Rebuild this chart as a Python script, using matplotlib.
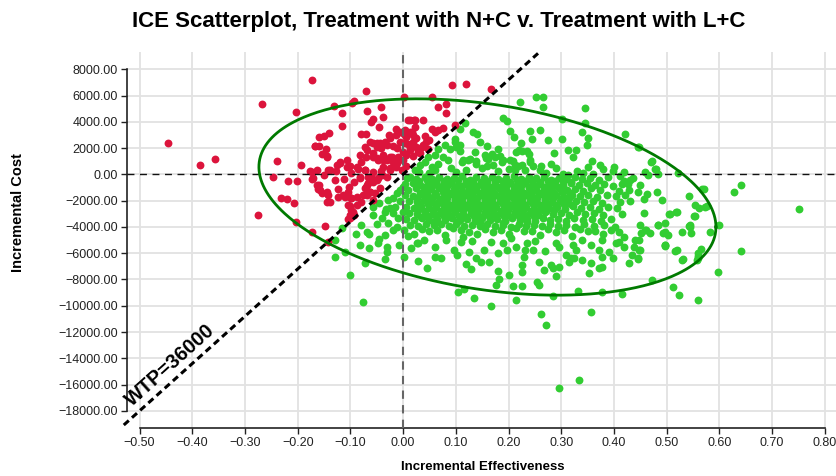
import numpy as np
import matplotlib
matplotlib.use("Agg")
import matplotlib.pyplot as plt

plt.rcParams['font.family'] = ['Liberation Sans', 'DejaVu Sans']
plt.rcParams['axes.unicode_minus'] = True

title = "ICE Scatterplot, Treatment with N+C v. Treatment with L+C"
x_label = "Incremental Effectiveness"
y_label = "Incremental Cost"
wtp = 36000
wtp_label = "WTP=36000"
x_ticks = [-0.5, -0.4, -0.3, -0.2, -0.1, 0.0, 0.1, 0.2, 0.3, 0.4, 0.5, 0.6, 0.7, 0.8]
y_ticks = [-18000, -16000, -14000, -12000, -10000, -8000, -6000, -4000, -2000, 0, 2000, 4000, 6000, 8000]

# ellipse (confidence region) parameters
ell_center = (0.160, -1720)
ell_sd = (0.4336, 7474)
ell_corr = -0.3056

# --- red points: not cost-effective (above WTP line) ---
red_outliers = [(-0.447, 2390), (-0.386, 716), (-0.356, 1170), (-0.267, 5380), (-0.173, 7190),
                (-0.071, 6370), (-0.204, 4730), (-0.239, 1000), (-0.246, -170), (-0.194, 690),
                (-0.218, -500), (-0.201, -500), (-0.275, -3070), (-0.232, -1820), (-0.220, -1900),
                (-0.207, -2200), (-0.203, -3650), (-0.172, -4390), (-0.149, -3930), (-0.142, -5120),
                (0.092, 6800), (0.119, 6880), (0.166, 6480), (0.055, 5870), (0.066, 5160),
                (0.082, 5340), (0.082, 4650), (0.098, 3770)]
red_upper = [(0.013, 4150), (0.022, 4150), (0.037, 4150), (0.054, 3440), (0.066, 3390), (0.076, 3520),
             (0.003, 3390), (0.019, 3010), (0.019, 2500), (0.025, 2760), (0.038, 2250), (0.044, 2500),
             (0.013, 1870), (0.025, 2120), (0.003, 2380), (0.019, 1370), (0.032, 1620), (0.047, 1920),
             (0.000, 1110), (0.006, 610), (0.000, 350), (0.005, 1500), (0.010, 2300), (0.028, 1700),
             (0.035, 2100), (0.042, 2900), (0.050, 2600), (0.060, 3200),
             (-0.132, 5230), (-0.115, 4650), (-0.115, 3710), (-0.094, 5610), (-0.097, 5450),
             (-0.068, 4850), (-0.042, 5110), (-0.038, 4400), (-0.057, 4190), (-0.061, 4000),
             (-0.046, 3590), (0.002, 5920), (0.010, 4140), (0.020, 4140), (0.023, 3630)]
red_cluster = [(-0.159, 2870), (-0.151, 2920), (-0.141, 3170), (-0.168, 2160), (-0.160, 2160),
               (-0.147, 1910), (-0.154, 1530), (-0.144, 1420), (-0.172, 210), (-0.164, 340),
               (-0.172, -330), (-0.160, -800), (-0.158, -1190), (-0.151, -50), (-0.142, 340),
               (-0.143, -1540), (-0.139, -2080), (-0.124, -1130), (-0.130, -430), (-0.127, 260),
               (-0.120, 870), (-0.107, 1100), (-0.101, 640), (-0.112, -350), (-0.103, -980),
               (-0.123, -1700), (-0.110, -1740), (-0.098, -1760), (-0.100, -2380), (-0.096, -2840),
               (-0.101, -3090), (-0.105, -3420), (-0.086, 390), (-0.082, -170), (-0.072, 340),
               (-0.071, -940), (-0.066, -680), (-0.082, 1500), (-0.072, 2110), (-0.070, 1350),
               (-0.080, 3080), (-0.070, 3080), (-0.058, 2410), (-0.050, 2060), (-0.044, 2370),
               (-0.034, 2490), (-0.026, 3000), (-0.019, 2160), (-0.012, 1990), (-0.057, 1350),
               (-0.047, 1100), (-0.038, 1480), (-0.031, 1100), (-0.022, 1350), (-0.038, 590),
               (-0.025, 340), (-0.012, 850), (-0.003, 340), (-0.060, -170), (-0.050, -430),
               (-0.040, -50), (-0.069, -1570), (-0.063, -1320), (-0.057, -1950), (-0.013, 3430),
               (-0.006, 3250), (0.002, 3080), (0.013, 3250), (-0.167, 2190), (-0.145, 1350),
               (-0.177, 260), (-0.171, -300), (-0.164, -810), (-0.161, -1130), (-0.154, -1440),
               (-0.145, -1320), (-0.145, -2080)]
red_core = [(-0.139, 335), (-0.126, 715), (-0.120, 970), (-0.107, 590), (-0.098, 80), (-0.088, 590),
            (-0.079, 970), (-0.072, 335), (-0.066, -170), (-0.082, -300), (-0.094, -600), (-0.069, -810),
            (-0.057, -600), (-0.047, -300), (-0.057, 210), (-0.041, 260), (-0.031, -170), (-0.025, 460),
            (-0.019, 970), (-0.013, 590), (-0.025, 1350), (-0.038, 1100), (-0.050, 1220), (-0.057, 1600),
            (-0.069, 1860), (-0.063, 2490), (-0.050, 2370), (-0.041, 1990), (-0.031, 2240), (-0.025, 2740),
            (-0.013, 3000), (-0.006, 2490), (0.006, 2870), (0.016, 3250), (0.022, 2740), (0.013, 1990),
            (0.000, 1730), (-0.009, 1350), (-0.104, -1320), (-0.114, -1570), (-0.098, -1830),
            (-0.088, -1700), (-0.076, -1570), (-0.063, -1320), (-0.054, -1450), (-0.104, -2330),
            (-0.098, -2710), (-0.094, -3090), (-0.101, -3340), (-0.088, -2330), (-0.079, -2080),
            (-0.072, -1060), (-0.044, -1060)]

# --- green points: cost-effective (below WTP line) ---
green_upper = [(0.253, 5870), (0.265, 5870), (0.265, 5160), (0.222, 5540), (0.346, 5030), (0.301, 4200),
               (0.346, 3900), (0.339, 3260), (0.351, 2760), (0.348, 2250), (0.421, 3090), (0.446, 2070),
               (0.472, 990), (0.480, 400), (0.459, 150), (0.190, 4280), (0.198, 4100), (0.203, 3310),
               (0.211, 2830), (0.241, 3340), (0.259, 3390), (0.244, 2680), (0.223, 2380), (0.274, 2630),
               (0.301, 2680), (0.214, 1720), (0.225, 1750), (0.235, 1750), (0.287, 1620), (0.312, 1870),
               (0.329, 1820), (0.323, 1320), (0.358, 990), (0.373, 730), (0.261, 660), (0.117, 3900),
               (0.133, 3260), (0.141, 3090), (0.146, 2500), (0.160, 2130), (0.098, 2500), (0.089, 1920),
               (0.100, 2070), (0.108, 1750), (0.114, 1110), (0.123, 1110), (0.139, 990), (0.157, 1240),
               (0.159, 610), (0.184, 1370), (0.190, 1110), (0.209, 990), (0.218, 660), (0.241, 1110),
               (0.247, 610), (0.231, 350), (0.272, 100), (0.304, 20), (0.313, -30), (0.342, 100),
               (0.361, 20), (0.399, 230), (0.447, 2050), (0.470, 960), (0.478, 400), (0.465, -50),
               (0.521, 80), (0.108, 3450), (0.098, 2730), (0.108, 2230), (0.079, 2230), (0.066, 1970),
               (0.076, 1340), (0.060, 1470), (0.047, 1340), (0.041, 960), (0.054, 580), (0.032, 710),
               (0.022, 330), (0.066, 830), (0.085, 1090), (0.111, 960), (0.127, 1210), (0.139, 830),
               (0.161, 1210), (0.174, 1340), (0.187, 960), (0.203, 1090), (0.212, 710), (0.136, 1720),
               (0.155, 1470), (0.168, 1590), (0.180, 1970), (0.238, 1590), (0.219, 1850), (0.213, 330),
               (0.225, 710), (0.241, 960), (0.030, 200), (0.060, 350), (0.090, 500), (0.120, 300),
               (0.150, 450), (0.180, 250), (0.200, 400), (0.260, 300), (0.290, 450), (0.330, 250),
               (0.380, 400), (0.420, 150), (0.050, 100), (0.100, 150), (0.170, 700), (0.280, 800),
               (0.350, 550), (0.400, 600)]
green_core = [(0.008, -250), (0.024, -380), (0.041, -200), (0.055, -330), (0.068, -180), (0.083, -360),
              (0.097, -240), (0.112, -150), (0.126, -390), (0.139, -220), (0.153, -300), (0.168, -170),
              (0.181, -350), (0.196, -260), (0.210, -140), (0.224, -380), (0.238, -230), (0.252, -310),
              (0.267, -170), (0.281, -400), (0.295, -250), (0.310, -330), (0.326, -190), (0.340, -360),
              (0.355, -250), (0.372, -410), (0.388, -200), (0.420, -470), (0.436, -280),
              (0.003, -760), (0.018, -650), (0.033, -820), (0.047, -700), (0.062, -610), (0.076, -790),
              (0.090, -680), (0.105, -830), (0.119, -640), (0.133, -760), (0.147, -700), (0.161, -850),
              (0.175, -620), (0.189, -780), (0.203, -690), (0.217, -820), (0.231, -640), (0.246, -760),
              (0.260, -700), (0.274, -850), (0.288, -620), (0.303, -770), (0.318, -680), (0.333, -830),
              (0.348, -650), (0.364, -790), (0.382, -700), (0.399, -880), (0.415, -760),
              (0.010, -1150), (0.025, -1060), (0.039, -1230), (0.053, -1120), (0.068, -1020), (0.082, -1200),
              (0.097, -1100), (0.111, -1250), (0.125, -1060), (0.139, -1170), (0.153, -1110), (0.168, -1260),
              (0.182, -1040), (0.196, -1190), (0.210, -1100), (0.224, -1230), (0.239, -1070), (0.253, -1180),
              (0.267, -1120), (0.282, -1270), (0.296, -1050), (0.311, -1200), (0.326, -1110), (0.341, -1250),
              (0.357, -1060), (0.374, -1190), (0.409, -1280), (0.428, -1150),
              (0.004, -1580), (0.019, -1680), (0.034, -1520), (0.048, -1640), (0.062, -1560), (0.077, -1700),
              (0.091, -1500), (0.105, -1620), (0.119, -1570), (0.134, -1710), (0.148, -1530), (0.162, -1650),
              (0.176, -1580), (0.190, -1700), (0.205, -1510), (0.219, -1630), (0.233, -1570), (0.247, -1710),
              (0.262, -1520), (0.276, -1650), (0.290, -1590), (0.305, -1720), (0.320, -1540), (0.335, -1660),
              (0.351, -1580), (0.368, -1700), (0.386, -1550), (0.404, -1670), (0.421, -1600),
              (0.011, -2020), (0.026, -2130), (0.040, -1970), (0.055, -2080), (0.069, -2000), (0.084, -2150),
              (0.098, -1960), (0.112, -2090), (0.127, -2010), (0.141, -2140), (0.155, -1980), (0.169, -2100),
              (0.183, -2030), (0.198, -2160), (0.212, -1970), (0.226, -2090), (0.240, -2020), (0.255, -2150),
              (0.269, -1980), (0.283, -2100), (0.298, -2040), (0.313, -2170), (0.328, -1990), (0.344, -2110),
              (0.360, -2040), (0.377, -2160), (0.412, -2120), (0.430, -2060),
              (0.005, -2480), (0.020, -2570), (0.034, -2430), (0.049, -2540), (0.063, -2460), (0.078, -2600),
              (0.092, -2420), (0.106, -2550), (0.121, -2470), (0.135, -2610), (0.149, -2440), (0.163, -2560),
              (0.177, -2490), (0.192, -2620), (0.206, -2430), (0.220, -2550), (0.234, -2480), (0.249, -2600),
              (0.263, -2450), (0.277, -2570), (0.292, -2500), (0.307, -2630), (0.322, -2440), (0.338, -2560),
              (0.354, -2490), (0.371, -2610), (0.388, -2460), (0.406, -2580),
              (0.012, -2930), (0.027, -3030), (0.041, -2880), (0.056, -2990), (0.070, -2910), (0.085, -3050),
              (0.099, -2870), (0.113, -3000), (0.128, -2920), (0.142, -3060), (0.156, -2890), (0.170, -3010),
              (0.184, -2940), (0.199, -3070), (0.213, -2880), (0.227, -3000), (0.241, -2930), (0.256, -3060),
              (0.270, -2900), (0.284, -3020), (0.299, -2950), (0.314, -3080), (0.330, -2890), (0.346, -3010),
              (0.362, -2940), (0.380, -3060), (0.416, -3030),
              (0.006, -3380), (0.021, -3470), (0.036, -3330), (0.050, -3440), (0.064, -3360), (0.079, -3500),
              (0.093, -3320), (0.108, -3450), (0.122, -3370), (0.136, -3510), (0.150, -3340), (0.164, -3460),
              (0.179, -3390), (0.193, -3520), (0.207, -3330), (0.221, -3450), (0.236, -3380), (0.250, -3510),
              (0.265, -3350), (0.279, -3470), (0.294, -3400), (0.309, -3530), (0.325, -3340), (0.341, -3460),
              (0.358, -3390), (0.376, -3510), (0.395, -3360),
              (0.013, -3830), (0.028, -3920), (0.043, -3780), (0.058, -3890), (0.072, -3810), (0.087, -3950),
              (0.101, -3770), (0.116, -3900), (0.131, -3820), (0.145, -3960), (0.160, -3790), (0.174, -3910),
              (0.189, -3840), (0.204, -3970), (0.219, -3780), (0.233, -3900), (0.248, -3830), (0.263, -3960),
              (0.278, -3800), (0.293, -3920), (0.309, -3850), (0.326, -3980), (0.344, -3810), (0.362, -3930),
              (0.382, -3860), (0.402, -3990)]
green_core_fill = [(0.031, -540), (0.046, -450), (0.062, -520), (0.077, -480), (0.091, -560),
                   (0.105, -460), (0.119, -530), (0.133, -490), (0.147, -550), (0.160, -470), (0.174, -520),
                   (0.189, -500), (0.203, -560), (0.217, -450), (0.231, -530), (0.245, -480), (0.260, -550),
                   (0.274, -470), (0.289, -520), (0.303, -500), (0.318, -560),
                   (0.026, -900), (0.040, -980), (0.055, -910), (0.069, -960), (0.083, -890),
                   (0.098, -950), (0.112, -920), (0.126, -990), (0.140, -900), (0.154, -960), (0.168, -930),
                   (0.182, -980), (0.196, -900), (0.210, -950), (0.224, -920), (0.238, -970), (0.253, -910),
                   (0.268, -960), (0.283, -930), (0.298, -990),
                   (0.032, -1420), (0.046, -1350), (0.060, -1400), (0.075, -1360), (0.089, -1430),
                   (0.103, -1340), (0.117, -1410), (0.131, -1380), (0.145, -1440), (0.159, -1350), (0.173, -1400),
                   (0.187, -1370), (0.201, -1430), (0.215, -1340), (0.229, -1410), (0.243, -1380), (0.258, -1430),
                   (0.272, -1360), (0.287, -1410), (0.302, -1370), (0.317, -1420),
                   (0.027, -1800), (0.041, -1870), (0.055, -1810), (0.070, -1860), (0.084, -1790),
                   (0.098, -1850), (0.112, -1820), (0.126, -1880), (0.140, -1800), (0.155, -1850), (0.169, -1820),
                   (0.183, -1870), (0.197, -1790), (0.211, -1850), (0.226, -1820), (0.240, -1880), (0.254, -1810),
                   (0.269, -1860), (0.284, -1830), (0.299, -1880), (0.314, -1800),
                   (0.033, -2320), (0.047, -2250), (0.062, -2300), (0.076, -2260), (0.090, -2330),
                   (0.104, -2240), (0.118, -2310), (0.133, -2280), (0.147, -2340), (0.161, -2250), (0.175, -2300),
                   (0.190, -2270), (0.204, -2330), (0.218, -2240), (0.232, -2310), (0.246, -2280), (0.261, -2330),
                   (0.275, -2260), (0.290, -2310), (0.305, -2270), (0.320, -2320),
                   (0.028, -2700), (0.042, -2770), (0.056, -2710), (0.071, -2760), (0.085, -2690),
                   (0.099, -2750), (0.114, -2720), (0.128, -2780), (0.142, -2700), (0.157, -2750), (0.171, -2720),
                   (0.185, -2770), (0.199, -2690), (0.214, -2750), (0.228, -2720), (0.242, -2780), (0.257, -2710),
                   (0.271, -2760), (0.286, -2730),
                   (0.034, -3220), (0.048, -3150), (0.063, -3200), (0.077, -3160), (0.091, -3230),
                   (0.106, -3140), (0.120, -3210), (0.134, -3180), (0.149, -3240), (0.163, -3150), (0.177, -3200),
                   (0.191, -3170), (0.206, -3230), (0.220, -3140), (0.234, -3210), (0.249, -3180),
                   (0.058, -3610), (0.102, -3650), (0.146, -3600), (0.190, -3670), (0.235, -3620)]
green_left = [(-0.077, -9690), (-0.101, -7660), (-0.129, -6310), (-0.110, -5930), (-0.129, -4990),
              (-0.115, -4060), (-0.089, -4540), (-0.080, -3850), (-0.069, -4360), (-0.064, -4540),
              (-0.082, -5370), (-0.065, -5630), (-0.072, -6770), (-0.048, -5250), (-0.034, -4610),
              (-0.031, -5500), (-0.030, -5880), (-0.034, -6460), (-0.058, -3090), (-0.034, -2840),
              (-0.025, -2580), (-0.019, -2960), (-0.028, -3720), (-0.012, -3980), (-0.007, -5370),
              (0.002, -6310), (0.002, -4230), (0.026, -5200), (0.028, -6590), (-0.057, -2460),
              (-0.032, -2660), (-0.028, -1950), (-0.012, -1440), (0.000, -940), (0.013, -170),
              (-0.045, -2200), (-0.040, -3300), (-0.020, -1800), (-0.015, -2500), (-0.005, -1200),
              (-0.005, -2000), (-0.010, -3300), (0.000, -2900), (-0.050, -3800), (-0.020, -4200),
              (-0.045, -4900), (0.010, -4700), (0.015, -5600)]
green_lower = [(0.046, -7100), (0.028, -5250), (0.104, -8950), (0.116, -8750), (0.128, -7200),
               (0.135, -9380), (0.166, -10010), (0.176, -8420), (0.182, -7960), (0.181, -7330),
               (0.200, -7650), (0.208, -8470), (0.214, -9560), (0.225, -8490), (0.225, -7400),
               (0.225, -6900), (0.255, -8160), (0.258, -8420), (0.258, -6640), (0.268, -7280),
               (0.284, -7150), (0.290, -7730), (0.296, -7020), (0.285, -9250), (0.261, -10620),
               (0.272, -11460), (0.296, -16230), (0.333, -15670), (0.315, -6640), (0.325, -6390),
               (0.332, -8870), (0.353, -7480), (0.356, -6770), (0.356, -10500), (0.372, -7150),
               (0.378, -7020), (0.378, -8920), (0.399, -6390), (0.416, -9130), (0.473, -8040),
               (0.435, -6130), (0.445, -6460), (0.429, -6770), (0.448, -4990), (0.439, -5500),
               (0.448, -5750), (0.458, -2960), (0.461, -4230), (0.451, -4480),
               (0.061, -6260), (0.072, -6390), (0.081, -4990), (0.097, -5750), (0.103, -6130),
               (0.109, -5120), (0.113, -4740), (0.125, -5880), (0.138, -6390), (0.147, -6640),
               (0.154, -5750), (0.163, -6640), (0.166, -5120), (0.189, -5250), (0.198, -5750),
               (0.204, -4870), (0.214, -5500), (0.232, -5750), (0.236, -5250), (0.246, -5750),
               (0.280, -6890), (0.290, -5250), (0.296, -5500), (0.318, -6390), (0.328, -5750),
               (0.322, -5370), (0.356, -5370), (0.372, -5750), (0.378, -6260), (0.378, -4990),
               (0.404, -5250), (0.410, -5120), (0.020, -4500), (0.050, -4300), (0.080, -4600),
               (0.110, -4250), (0.140, -4500), (0.170, -4350), (0.200, -4550), (0.230, -4300),
               (0.260, -4600), (0.290, -4400), (0.320, -4700), (0.350, -4300), (0.380, -4550),
               (0.410, -4400), (0.040, -5000), (0.130, -5100), (0.250, -5050), (0.340, -5000),
               (0.420, -4750), (0.035, -4150), (0.065, -4250), (0.095, -4100), (0.125, -4350),
               (0.155, -4150), (0.185, -4250), (0.215, -4100), (0.245, -4300), (0.275, -4150),
               (0.305, -4250), (0.335, -4150), (0.365, -4300), (0.395, -4200), (0.060, -5500),
               (0.180, -6000), (0.270, -5800), (0.310, -6100), (0.390, -5900), (0.230, -6300),
               (0.120, -6800), (0.340, -6500), (0.420, -5500)]
green_right = [(0.751, -2630), (0.642, -5830), (0.598, -7400), (0.600, -3850), (0.583, -4360),
               (0.560, -9560), (0.524, -9180), (0.513, -8590), (0.530, -6510), (0.516, -5800),
               (0.559, -6390), (0.565, -5700), (0.559, -6010), (0.542, -3930), (0.546, -4490),
               (0.530, -4410), (0.505, -3010), (0.518, -2840), (0.497, -3670), (0.483, -3880),
               (0.496, -4360), (0.496, -5420), (0.553, -2330), (0.562, -2580), (0.568, -1090),
               (0.543, -1670), (0.576, -2430), (0.552, -3140), (0.544, -3820), (0.494, -4450),
               (0.497, -5390), (0.449, -810), (0.445, -1320), (0.462, -1520), (0.458, -1870),
               (0.481, -1320), (0.491, -1950), (0.570, -1110), (0.573, -2450), (0.554, -3140),
               (0.628, -1320), (0.642, -810), (0.506, -3040), (0.519, -2830), (0.449, -3850),
               (0.484, -3850), (0.544, -3970), (0.503, -4650), (0.459, -4230), (0.468, -4480),
               (0.440, -4980), (0.449, -5740), (0.446, -6380), (0.496, -5360), (0.519, -5740),
               (0.532, -6430), (0.560, -6250), (0.557, -6500), (0.430, -400), (0.427, -730),
               (0.411, -150), (0.483, 0)]

red_groups = (red_outliers, red_upper, red_cluster, red_core)
green_groups = (green_upper, green_core, green_core_fill, green_left, green_lower, green_right)
red_x = [p[0] for grp in red_groups for p in grp]
red_y = [p[1] for grp in red_groups for p in grp]
green_x = [p[0] for grp in green_groups for p in grp]
green_y = [p[1] for grp in green_groups for p in grp]

W, H = 837, 476
fig = plt.figure(figsize=(W / 100, H / 100), dpi=100)
ax = fig.add_axes([127 / W, 48 / H, (W - 127) / W, (428 - 52) / H])
ax.set_xlim(-0.5239, 0.8233)
ax.set_ylim(-19307, 9319)

ax.set_xticks(x_ticks)
ax.set_yticks(y_ticks)
ax.set_xticklabels([f"{v:.2f}".replace("-", "\u2212") for v in x_ticks], fontsize=9)
ax.set_yticklabels([f"{v:.2f}".replace("-", "\u2212") for v in y_ticks], fontsize=9)
ax.grid(True, color='#e2e2e2', linewidth=1.3, zorder=0)
ax.set_axisbelow(True)
for s in ('top', 'right'):
    ax.spines[s].set_visible(False)
ax.spines['left'].set_bounds(-18000, 8000)
ax.spines['bottom'].set_bounds(-0.5, 0.8)
for s in ('left', 'bottom'):
    ax.spines[s].set_linewidth(1.2)
    ax.spines[s].set_color('#222222')
ax.tick_params(axis='both', length=4.5, width=1.0, color='#222222', pad=2, labelcolor='#222222')

ax.scatter(green_x, green_y, s=32, color='#32CD32', linewidths=0, zorder=2)
ax.scatter(red_x, red_y, s=32, color='#DC143C', linewidths=0, zorder=2)

# reference lines
ax.axhline(0, color='#111111', linewidth=1.0, dashes=(5, 4), zorder=3)
ax.axvline(0, color='#666666', linewidth=1.5, dashes=(4, 3), zorder=3)

# confidence ellipse
t = np.linspace(0, 2 * np.pi, 400)
sx, sy = ell_sd
ex = ell_center[0] + sx * np.cos(t)
ey = ell_center[1] + sy * (ell_corr * np.cos(t) + np.sqrt(1 - ell_corr ** 2) * np.sin(t))
ax.plot(ex, ey, color='#007a00', linewidth=2.0, zorder=4)

# WTP line
wx = np.array([-0.53, 0.256])
ax.plot(wx, wtp * wx, color='black', linewidth=2.2, dashes=(2.2, 1.4), zorder=5, clip_on=False)
ax.text(-0.442, -14510, wtp_label, rotation=41.9, rotation_mode='anchor', ha='center', va='center',
        fontsize=14.5, fontweight='bold', color='black', zorder=6)

fig.text(439 / W, 1 - 21 / H, title, ha='center', va='center', fontsize=16, fontweight='bold')
fig.text(483 / W, 1 - 467 / H, x_label, ha='center', va='center', fontsize=9.5, fontweight='bold')
fig.text(18 / W, 1 - 213 / H, y_label, ha='center', va='center', fontsize=10.5, fontweight='bold', rotation=90)

fig.savefig('out.png', dpi=100)
